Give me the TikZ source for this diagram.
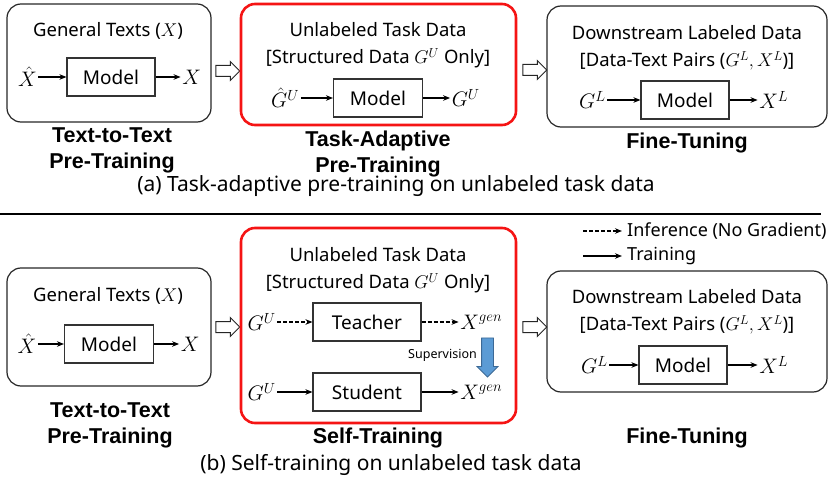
\documentclass[tikz,border=0pt]{standalone}
\usepackage{fix-cm}
\usepackage{amsmath}
\usepackage{fontspec}
\setmainfont{Noto Sans}
\newfontfamily\stagefont{Liberation Sans}
\usepackage{xcolor}
\usepackage{tikz}
\usetikzlibrary{positioning,shapes.arrows,arrows.meta}
\definecolor{stagered}{RGB}{245,20,20}
\definecolor{supblue}{RGB}{91,155,213}
\definecolor{supedge}{RGB}{60,105,150}

\begin{document}
\begin{tikzpicture}[
    x=1pt, y=-1pt,
    panel/.style={rectangle, draw=black!85, line width=1.2pt, rounded corners=14pt, inner sep=0pt},
    redpanel/.style={panel, draw=stagered, line width=2.6pt},
    modelbox/.style={rectangle, draw=black!80, line width=1.1pt, minimum height=38pt, inner sep=0pt, font=\fontsize{19}{22}\selectfont},
    title/.style={font=\fontsize{18.5}{27}\selectfont, align=center, inner sep=0pt},
    stage/.style={font=\fontsize{21.5}{26}\selectfont\stagefont\bfseries, align=center, inner sep=0pt},
    caption/.style={font=\fontsize{21}{24}\selectfont, inner sep=0pt},
    var/.style={font=\fontsize{21}{24}\selectfont, inner sep=1.5pt},
    arr/.style={-{Stealth[length=7pt,width=5.5pt]}, line width=1.1pt},
    darr/.style={arr, dash pattern=on 4pt off 2pt},
    hollow/.style={single arrow, draw=black!85, line width=1pt, fill=white, minimum height=24pt, inner sep=5pt, single arrow head extend=4pt},
    suparrow/.style={single arrow, draw=supedge, line width=0.8pt, fill=supblue, minimum height=39pt, inner sep=5.5pt, single arrow head extend=4.5pt, shape border rotate=270},
]
\useasboundingbox (0,0) rectangle (831,484);

% === (a) TASK-ADAPTIVE PRE-TRAINING ===
\node[panel, minimum width=204pt, minimum height=118pt] (ptA) at (109,63) {};
\node[title] (ttlA) at (108,31) {General Texts ($X$)};
\node[modelbox, minimum width=88pt] (mdlA) at (111,77) {Model};
\node[var, left=28pt of mdlA] (inA) {$\hat{X}$};
\node[var, right=25pt of mdlA] (outA) {$X$};

\node[hollow] (haA1) at (225,71) {};

\node[redpanel, minimum width=275pt, minimum height=121pt] (tapt) at (378.5,64.5) {};
\node[title] (ttlB) at (378,45.5) {Unlabeled Task Data\\{}[Structured Data $G^U$ Only]};
\node[modelbox, minimum width=89pt] (mdlB) at (378,98) {Model};
\node[var, left=32pt of mdlB] (inB) {$\hat{G}^U$};
\node[var, right=27pt of mdlB] (outB) {$G^U$};

\node[hollow] (haA2) at (532,70) {};

\node[panel, minimum width=280pt, minimum height=121pt] (ftA) at (687,66.5) {};
\node[title] (ttlC) at (687,48) {Downstream Labeled Data\\{}[Data-Text Pairs ($G^L,X^L$)]};
\node[modelbox, minimum width=88pt] (mdlC) at (685,100) {Model};
\node[var, left=33pt of mdlC] (inC) {$G^L$};
\node[var, right=28pt of mdlC] (outC) {$X^L$};

\draw[arr] (inA) -- (mdlA);
\draw[arr] (mdlA) -- (outA);
\draw[arr] (inB) -- (mdlB);
\draw[arr] (mdlB) -- (outB);
\draw[arr] (inC) -- (mdlC);
\draw[arr] (mdlC) -- (outC);

\node[stage] (stA1) at (112,150) {Text-to-Text\\Pre-Training};
\node[stage] (stA2) at (378,154) {Task-Adaptive\\Pre-Training};
\node[stage] (stA3) at (687,143) {Fine-Tuning};
\node[caption] (capA) at (396,186) {(a) Task-adaptive pre-training on unlabeled task data};

% === SEPARATOR ===
\coordinate (sepL) at (0,214);
\coordinate (sepR) at (821,214);
\draw[line width=1.5pt] (sepL) -- (sepR);

% === LEGEND ===
\coordinate (lgD1) at (583,231);
\coordinate (lgD2) at (622,231);
\coordinate (lgS1) at (583,256);
\coordinate (lgS2) at (622,256);
\draw[darr] (lgD1) -- (lgD2);
\draw[arr] (lgS1) -- (lgS2);
\node[title, font=\fontsize{18}{22}\selectfont, anchor=west] (lgInf) at (627,231) {Inference (No Gradient)};
\node[title, font=\fontsize{18}{22}\selectfont, anchor=west] (lgTrn) at (627,256) {Training};

% === (b) SELF-TRAINING ===
\node[panel, minimum width=204pt, minimum height=118pt] (ptB) at (109,327) {};
\node[title] (ttlD) at (108,296) {General Texts ($X$)};
\node[modelbox, minimum width=89pt] (mdlD) at (109,344) {Model};
\node[var, left=26pt of mdlD] (inD) {$\hat{X}$};
\node[var, right=25pt of mdlD] (outD) {$X$};

\node[hollow] (haB1) at (225,327) {};

\node[redpanel, minimum width=275pt, minimum height=195pt] (slft) at (378.5,325.5) {};
\node[title] (ttlE) at (378,270.5) {Unlabeled Task Data\\{}[Structured Data $G^U$ Only]};
\node[modelbox, minimum width=108pt] (teacher) at (367,322) {Teacher};
\node[modelbox, minimum width=108pt] (student) at (367,392) {Student};
\node[var, left=35pt of teacher] (inT) {$G^U$};
\node[var, right=37pt of teacher] (outT) {$X^{gen}$};
\node[var, left=35pt of student] (inS) {$G^U$};
\node[var, right=37pt of student] (outS) {$X^{gen}$};
\node[suparrow] (supA) at (487.5,354.5) {};
\node[font=\fontsize{12.5}{14}\selectfont, inner sep=0pt, anchor=east] (supT) at (477,355) {Supervision};

\draw[darr] (inT) -- (teacher);
\draw[darr] (teacher) -- (outT);
\draw[arr] (inS) -- (student);
\draw[arr] (student) -- (outS);

\node[hollow] (haB2) at (532,327) {};

\node[panel, minimum width=280pt, minimum height=121pt] (ftB) at (687,331.5) {};
\node[title] (ttlF) at (687,312) {Downstream Labeled Data\\{}[Data-Text Pairs ($G^L,X^L$)]};
\node[modelbox, minimum width=88pt] (mdlF) at (683,365) {Model};
\node[var, left=29pt of mdlF] (inF) {$G^L$};
\node[var, right=30pt of mdlF] (outF) {$X^L$};

\draw[arr] (inD) -- (mdlD);
\draw[arr] (mdlD) -- (outD);
\draw[arr] (inF) -- (mdlF);
\draw[arr] (mdlF) -- (outF);

\node[stage] (stB1) at (110,425) {Text-to-Text\\Pre-Training};
\node[stage] (stB2) at (378,438) {Self-Training};
\node[stage] (stB3) at (687,438) {Fine-Tuning};
\node[caption] (capB) at (391,465) {(b) Self-training on unlabeled task data};

\end{tikzpicture}
\end{document}
